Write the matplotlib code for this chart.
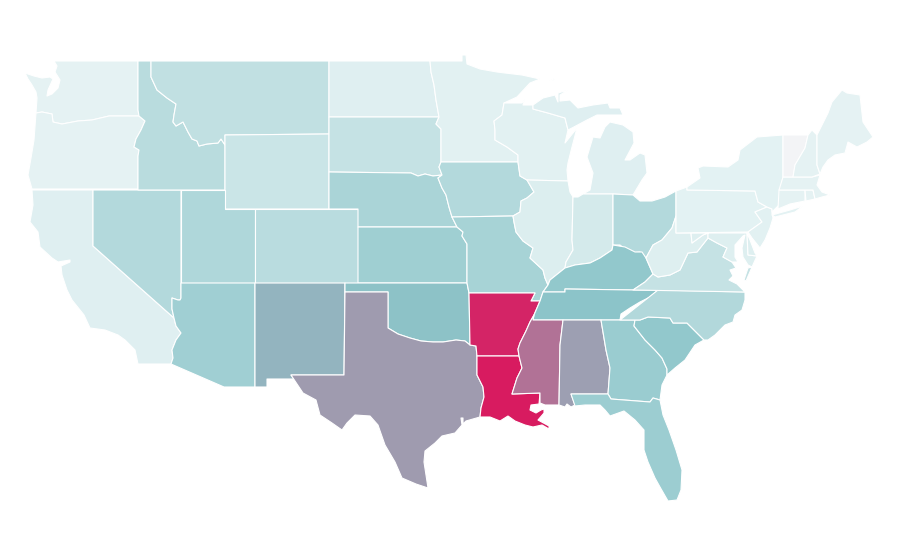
import matplotlib
matplotlib.use('Agg')
import matplotlib.pyplot as plt
from matplotlib.collections import PolyCollection
from matplotlib.colors import LinearSegmentedColormap, Normalize

states = ['WA','OR','CA','NV','ID','MT','WY','UT','CO','AZ','NM','ND','SD','NE','KS','OK','TX',
          'MN','IA','MO','AR','LA','WI','IL','MI','IN','OH','KY','TN','MS','AL','GA','FL','SC',
          'NC','VA','WV','MD','DE','PA','NJ','NY','CT','RI','MA','VT','NH','ME']
values = [7,7,9.4,31,28.5,24.6,19.7,32.9,28,40.2,54.7,9.4,22.6,35.3,40.7,51,62.4,
          8,31,37,97,100,8,11,9.5,15,31,47,50,74.4,61,43,42,47,
          31.5,22,10,10,10,7.5,8.2,7.5,7,7,7,0,6.8,7]

# shared borders, picture pixels
or_id = [(139,116),(145,121),(141,130),(136,139),(134,147),(139,150),(138,156),(138,189)]
wa_or = [(36,113),(42,112),(52,114),(53,122),(62,124),(78,121),(92,120),(109,116),(139,116)]
id_mt = [(151,61),(151,77),(157,90),(167,98),(176,104),(174,115),(173,122),(176,126),(183,122),
         (188,132),(192,139),(197,141),(199,146),(207,144),(218,143),(221,139),(225,145)]
colorado = [(181,283),(181,298),(180,300),(178,300),(172,298),(172,309),(174,318),(176,326),
            (181,333),(176,340),(172,350),(173,358),(171,364)]
red_river = [(388,328),(398,334),(410,338),(421,341),(433,342),(443,342),(456,340),(465,341),(470,345)]
ne_east = [(442,175),(438,178),(442,188),(446,195),(449,207),(452,217)]
ne_top = [(329,172),(411,173),(418,176),(425,174),(433,176),(442,175)]
sd_mn = [(439,117),(436,124),(441,129),(441,162)]
mn_nd = [(430,61),(431,72),(434,85),(436,100),(439,117)]
mn_wi = [(504,103),(502,115),(494,121),(495,130),(495,140),(507,147),(518,155),(518,162)]
ia_wi_il = [(518,162),(520,176),(527,180),(534,192),(527,198),(521,201),(520,212),(513,216)]
mo_il = [(513,216),(514,222),(516,232),(523,241),(533,248),(530,258),(543,270),(545,278),(548,285)]
ar_east = [(540,301),(534,315),(530,322),(526,331),(520,343),(518,349),(519,356)]
la_ms = [(519,356),(522,368),(517,378),(512,394),(540,393)]
la_tx = [(477,356),(477,375),(483,387),(484,397),(481,408),(480,417)]
ohio_in = [(565,268),(575,265),(590,263),(600,258),(612,250),(613,245)]
ohio_oh = [(613,245),(625,247),(635,252),(642,252),(646,258)]
oh_wv = [(646,258),(653,245),(662,240),(672,228),(676,216),(676,191)]
ky_va = [(633,290),(645,282),(653,274),(646,258)]
tn_nc = [(620,320),(621,314),(630,308),(640,302),(650,297),(658,290)]
wv_va = [(653,274),(658,277),(670,275),(680,270),(688,253),(697,252),(708,238)]
al_ga = [(601,320),(606,350),(610,368),(608,394)]
ga_sc = [(635,320),(634,326),(645,340),(655,350),(662,358),(667,369),(667,375)]
sc_nc = [(704,340),(687,323),(673,323),(670,318),(648,317),(640,320),(635,320)]
md_va = [(708,238),(717,243),(727,248)]
pa_east = [(755,191),(758,202),(767,207),(755,212),(762,222),(748,232)]

outlines = {
    'WA': [[(54,61),(138,61),(138,110)] + wa_or[::-1] + [(37,98),(36,92),(32,85),(28,79),(25,73),(34,76),
           (42,78),(50,77),(53,79),(48,90),(47,96),(52,94),(58,88),(60,80),(55,72),(57,66)]],
    'OR': [wa_or + or_id[1:] + [(32,189),(28,175),(31,158),(34,140)]],
    'CA': [[(32,190),(93,190),(93,246)] + colorado[6:] + [(138,364),(135,350),(125,340),(118,335),(105,330),
           (90,328),(84,315),(72,300),(67,290),(62,275),(61,266),(70,262),(70,260),(58,262),(52,258),(40,247),
           (38,232),(30,222),(33,205)]],
    'NV': [[(93,190),(181,190)] + colorado[1:7] + [(93,246)]],
    'ID': [[(138,61)] + id_mt + [(225,190),(138,190)] + or_id[:-1][::-1] + [(138,110)]],
    'MT': [[(329,61),(329,134),(225,135)] + id_mt[::-1]],
    'WY': [[(225,135),(329,134),(329,209),(225,209)]],
    'UT': [[(181,190),(225,190),(225,209),(255,209),(255,283),(181,283)]],
    'CO': [[(255,209),(358,209),(358,283),(255,283)]],
    'AZ': [[(255,283),(255,387),(224,387)] + colorado[::-1]],
    'NM': [[(255,283),(345,283),(344,375),(291,375),(294,379),(267,379),(267,387),(255,387)]],
    'ND': [[(329,61)] + mn_nd + [(329,117)]],
    'SD': [[(329,117)] + sd_mn + [(439,167)] + ne_top[::-1]],
    'NE': [ne_top + ne_east[1:] + [(457,227),(358,227),(358,209),(329,209)]],
    'KS': [[(358,227),(457,227),(463,232),(462,236),(467,244),(467,283),(358,283)]],
    'OK': [[(345,283),(467,283),(469,293)] + red_river[::-1] + [(388,292),(345,292)]],
    'TX': [[(345,292),(388,292)] + red_river + [(476,346)] + la_tx + [(466,421),(463,424),(463,418),(461,418),
           (462,425),(455,433),(442,436),(435,443),(425,451),(424,462),(426,475),(428,488),(416,484),(402,478),
           (395,462),(385,445),(378,425),(370,416),(355,415),(347,423),(342,430),(332,423),(320,415),(316,400),
           (303,393),(291,375),(344,375)]],
    'MN': [[(430,61),(462,61),(462,55),(466,55),(467,64),(480,69),(497,72),(505,73),(522,75),(540,79),(530,83),(517,97)]
           + mn_wi + [(441,162),(441,129),(436,124)] + mn_nd[::-1][:-1]],
    'IA': [[(441,162)] + ia_wi_il + [(452,217)] + ne_east[::-1][1:] + [(439,167)]],
    'MO': [[(452,217)] + mo_il + [(543,292),(540,301),(531,301),(535,293),(469,293),(467,283),(467,244),(462,236),
           (463,232),(457,227)]],
    'AR': [[(469,293),(535,293),(531,301)] + ar_east + [(477,356),(476,346),(470,345)]],
    'LA': [[(477,356)] + la_ms + [(539,404),(531,405),(530,410),(536,413),(541,410),(544,409),(544,413),(538,420),
           (549,426),(549,429),(542,425),(533,427),(525,425),(515,421),(508,416),(500,421),(490,417)]
           + la_tx[::-1][:-1]],
    'WI': [[(504,103),(522,103),(525,99),(523,105),(533,105),(533,109),(548,113),(565,118),(568,130),(565,143),(577,128),
           (572,147),(568,163),(567,170),(568,181),(527,180)] + ia_wi_il[:2][::-1] + mn_wi[::-1][1:]],
    'IL': [[(527,180),(568,181),(570,192),(573,197),(572,240),(573,250),(566,262),(565,268),(550,280)]
           + mo_il[::-1] + ia_wi_il[2:-1][::-1]],
    'MI': [[(533,105),(543,98),(555,95),(558,102),(558,93),(568,90),(560,95),(560,101),(570,100),(578,108),(593,105),
            (608,103),(610,108),(620,108),(623,115),(610,115),(597,115),(587,120),(572,128),(568,130),(565,118),
            (548,113),(533,109)],
           [(610,122),(623,125),(633,132),(634,143),(625,160),(630,160),(640,153),(645,155),(647,173),(642,180),
            (633,195),(613,194),(583,194),(590,190),(593,173),(587,157),(593,137),(600,138),(605,127)],
           [(549,81),(555,78),(554,80)]],
    'IN': [[(573,197),(578,197),(583,194),(613,194),(613,245)] + ohio_in[::-1][1:] + [(566,262),(573,250),(572,240)]],
    'OH': [[(613,194),(633,195),(640,201),(652,201),(665,197),(676,191)] + oh_wv[::-1][1:-1] + [(646,258),(640,252),
           (630,253),(620,245),(613,245)]],
    'KY': [[(548,285),(550,280)] + ohio_in + ohio_oh[1:] + ky_va[::-1][1:] + [(565,289),(565,292),(543,292)]],
    'TN': [[(543,292),(565,292),(565,289),(633,290),(658,290)] + tn_nc[::-1][1:] + [(533,320),(534,315),(540,301)]],
    'MS': [[(533,320),(563,320),(560,345),(559,405),(545,405),(540,403),(540,393),(512,394),(517,378),(522,368)]
           + ar_east[1:][::-1]],
    'AL': [[(563,320)] + al_ga + [(571,394),(575,405),(571,407),(567,404),(565,407),(559,405),(560,345)]],
    'GA': [al_ga[:1] + ga_sc + [(662,385),(660,400),(653,398),(650,402),(611,399)] + al_ga[::-1][:-1]],
    'FL': [[(571,394),(608,394),(611,399),(650,402),(653,398),(660,400),(663,415),(669,430),(676,450),(682,470),
            (681,490),(677,500),(668,501),(660,487),(655,478),(648,462),(644,450),(644,430),(635,420),(624,411),
            (610,416),(605,410),(600,405),(585,405),(575,406)]],
    'SC': [ga_sc + [(675,368),(685,360),(695,345)] + sc_nc],
    'NC': [[(658,290),(745,292),(745,300),(742,310),(735,315),(733,322),(725,325),(715,335),(708,340)]
           + sc_nc + tn_nc[:1]] ,
    'VA': [ky_va[:3] + wv_va[1:] + md_va[1:] + [(723,257),(732,262),(736,268),(730,270),(733,276),(729,280),(737,284),(745,292)],
           [(752,267),(746,281),(744,280),(748,268)]],
    'WV': [[(646,258)] + oh_wv[1:-1] + [(676,233),(691,233),(692,243),(703,235),(708,233),(708,238)]
           + wv_va[::-1][1:] + [(653,274)]],
    'MD': [[(691,233),(747,233),(748,255),(757,256),(752,267),(748,265),(743,257),(742,248),(745,235),(743,236),
            (735,245),(735,257),(738,262),(732,262),(723,257),(727,248),(717,243),(708,238),(708,233),(703,235),(692,243)]],
    'DE': [[(747,233),(750,240),(755,253),(757,256),(748,255)]],
    'PA': [[(676,191),(687,187),(687,190),(755,191)] + pa_east[1:] + [(676,233)]],
    'NJ': [[(767,207),(772,209),(772,214),(773,218),(770,228),(765,240),(760,248),(752,238),(748,232),(762,222),(755,212)]],
    'NY': [[(687,187),(700,178),(698,168),(703,166),(728,167),(738,160),(740,150),(757,137),(783,135),(783,162),
            (783,177),(780,190),(779,205),(772,212),(772,209),(767,207),(758,202),(755,191),(687,190)],
           [(772,215),(790,210),(803,206),(795,212),(775,217)]],
    'CT': [[(779,190),(805,190),(805,201),(790,204),(778,209)]],
    'RI': [[(805,190),(813,190),(815,199),(806,201)]],
    'MA': [[(783,177),(812,177),(820,175),(817,185),(822,192),(830,195),(822,197),(815,199),(813,190),(779,190)]],
    'VT': [[(783,135),(808,135),(805,148),(795,165),(793,177),(783,177),(783,162)]],
    'NH': [[(808,135),(812,130),(817,135),(817,165),(820,174),(812,177),(793,177),(795,165),(805,148)]],
    'ME': [[(817,135),(828,113),(832,102),(842,90),(847,93),(860,95),(863,122),(873,137),(867,142),(857,147),
            (848,142),(845,153),(835,155),(828,160),(823,167),(820,174),(817,165)]],
}

cmap = LinearSegmentedColormap.from_list('cases', [(0, '#f3f4f6'), (0.07, '#e4f2f3'), (0.5, '#8cc5c9'), (1, '#d81b60')])

polys = []
polyvals = []
for s, v in zip(states, values):
    for part in outlines[s]:
        polys.append(part)
        polyvals.append(v)

fig = plt.figure(figsize=(9, 5.6), dpi=100)
ax = fig.add_axes([0, 0, 1, 1])
ax.set_xlim(0, 900)
ax.set_ylim(560, 0)
ax.axis('off')

pc = PolyCollection(polys, array=polyvals, cmap=cmap, norm=Normalize(0, 100),
                    edgecolors='white', linewidths=0.8)
ax.add_collection(pc)

fig.savefig('out.png', dpi=100)
